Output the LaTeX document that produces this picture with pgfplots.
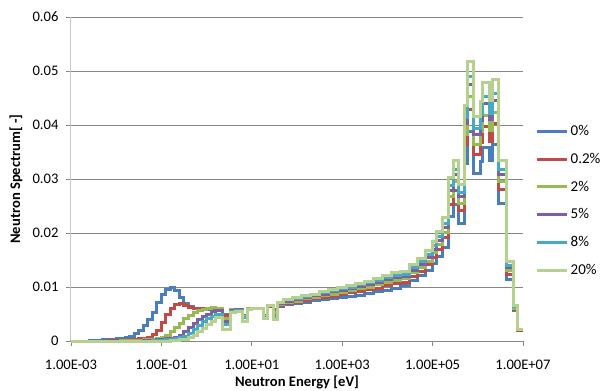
\documentclass[border=0pt]{standalone}
\usepackage{fontspec}
\setmainfont{Carlito}
\usepackage{pgfplots}
\usepackage{pgfplotstable}
\pgfplotsset{compat=1.18}
\definecolor{c0}{HTML}{4A7EBB}
\definecolor{c1}{HTML}{BE4B48}
\definecolor{c2}{HTML}{98B954}
\definecolor{c3}{HTML}{7D60A0}
\definecolor{c4}{HTML}{46AAC5}
\definecolor{c5}{HTML}{B6D08F}
\definecolor{gridc}{RGB}{134,134,134}
\definecolor{yaxc}{RGB}{200,200,200}

% logE = log10 of the lower group boundary energy [eV]
\pgfplotstableread{
logE s0 s02 s2 s5 s8 s20
-3.0 0 0 0 0 0 0
-2.6 0.0001 0 0 0 0 0
-2.5 0.0001 0 0 0 0 0
-2.4 0.0001 0 0 0 0 0
-2.3 0.0002 0 0 0 0 0
-2.2 0.0002 0.0001 0 0 0 0
-2.1 0.0003 0.0001 0 0 0 0
-2.0 0.0004 0.0001 0 0 0 0
-1.9 0.0005 0.0001 0.0001 0 0 0
-1.8 0.0007 0.0002 0.0001 0 0 0
-1.7 0.0009 0.0002 0.0001 0 0 0
-1.6 0.0014 0.0003 0.0001 0 0 0
-1.5 0.0020 0.0004 0.0001 0 0 0
-1.4 0.0028 0.0005 0.0002 0.0001 0 0
-1.3 0.0039 0.0007 0.0002 0.0001 0 0
-1.2 0.0053 0.0012 0.0003 0.0001 0.0001 0
-1.1 0.0071 0.0020 0.0004 0.0002 0.0001 0
-1.0 0.0086 0.0034 0.0006 0.0003 0.0001 0
-0.9 0.0096 0.0050 0.0011 0.0004 0.0002 0
-0.8 0.0100 0.0061 0.0018 0.0005 0.0003 0.0001
-0.7 0.0093 0.0068 0.0025 0.0007 0.0004 0.0001
-0.6 0.0080 0.0069 0.0033 0.0011 0.0006 0.0002
-0.5 0.0069 0.0066 0.0041 0.0017 0.0009 0.0003
-0.4 0.0063 0.0062 0.0048 0.0025 0.0014 0.0006
-0.3 0.0061 0.0061 0.0053 0.0033 0.0022 0.0011
-0.2 0.0060 0.0061 0.0057 0.0040 0.0029 0.0017
-0.1 0.0060 0.0060 0.0059 0.0046 0.0036 0.0023
0.0 0.0059 0.0060 0.0061 0.0050 0.0042 0.0030
0.1 0.0059 0.0059 0.0062 0.0054 0.0046 0.0036
0.2 0.0058 0.0058 0.0061 0.0056 0.0050 0.0044
0.35 0.0050 0.0047 0.0042 0.0036 0.0031 0.0022
0.52 0.0058 0.0058 0.0059 0.0057 0.0055 0.0052
0.65 0.0059 0.0059 0.0059 0.0058 0.0057 0.0055
0.8 0.0048 0.0046 0.0045 0.0044 0.0044 0.0036
0.9 0.0060 0.0060 0.0060 0.0059 0.0059 0.0058
1.0 0.0060 0.0060 0.0061 0.0061 0.0061 0.0061
1.25 0.0047 0.0046 0.0045 0.0044 0.0043 0.0042
1.34 0.0063 0.0064 0.0065 0.0065 0.0066 0.0066
1.47 0.0058 0.0056 0.0052 0.0048 0.0046 0.0040
1.56 0.0064 0.0066 0.0068 0.0070 0.0071 0.0072
1.7 0.0067 0.0069 0.0071 0.0074 0.0076 0.0077
1.9 0.0070 0.0072 0.0074 0.0077 0.0079 0.0080
2.1 0.0072 0.0075 0.0078 0.0080 0.0082 0.0084
2.3 0.0075 0.0078 0.0081 0.0084 0.0086 0.0087
2.5 0.0077 0.0080 0.0084 0.0087 0.0089 0.0091
2.7 0.0079 0.0083 0.0087 0.0091 0.0093 0.0095
2.9 0.0081 0.0086 0.0090 0.0094 0.0097 0.0099
3.1 0.0083 0.0089 0.0093 0.0098 0.0100 0.0103
3.3 0.0085 0.0092 0.0097 0.0101 0.0104 0.0107
3.5 0.0088 0.0095 0.0100 0.0105 0.0108 0.0111
3.7 0.0091 0.0098 0.0104 0.0109 0.0112 0.0116
3.9 0.0094 0.0102 0.0108 0.0113 0.0117 0.0121
4.1 0.0097 0.0106 0.0112 0.0117 0.0122 0.0126
4.279 0.0102 0.0108 0.0115 0.0120 0.0124 0.0129
4.500 0.0112 0.0119 0.0126 0.0131 0.0136 0.0141
4.677 0.0121 0.0129 0.0136 0.0142 0.0147 0.0153
4.832 0.0131 0.0141 0.0148 0.0155 0.0160 0.0167
4.987 0.0143 0.0155 0.0163 0.0170 0.0176 0.0184
5.097 0.0156 0.0170 0.0179 0.0187 0.0193 0.0202
5.230 0.0174 0.0191 0.0201 0.0210 0.0218 0.0228
5.341 0.0230 0.0253 0.0267 0.0279 0.0288 0.0303
5.473 0.0253 0.0279 0.0295 0.0308 0.0318 0.0335
5.584 0.0218 0.0241 0.0254 0.0267 0.0275 0.0290
5.695 0.0328 0.0363 0.0383 0.0402 0.0414 0.0437
5.783 0.0388 0.0429 0.0452 0.0475 0.0489 0.0517
5.894 0.0310 0.0345 0.0363 0.0382 0.0393 0.0415
6.049 0.0332 0.0368 0.0388 0.0408 0.0419 0.0443
6.115 0.0358 0.0397 0.0418 0.0440 0.0452 0.0478
6.248 0.0334 0.0370 0.0390 0.0410 0.0422 0.0446
6.336 0.0364 0.0403 0.0424 0.0446 0.0459 0.0485
6.469 0.0255 0.0280 0.0295 0.0308 0.0318 0.0335
6.646 0.0113 0.0124 0.0130 0.0136 0.0140 0.0147
6.779 0.0056 0.0059 0.0061 0.0063 0.0064 0.0065
6.889 0.0019 0.0020 0.0021 0.0021 0.0022 0.0022
7.0 0.0019 0.0020 0.0021 0.0021 0.0022 0.0022
}\spec

\begin{document}
\begin{tikzpicture}
\useasboundingbox (-71pt,-50pt) rectangle (532pt,341pt);
\begin{axis}[
 at={(0pt,0pt)}, anchor=south west,
 scale only axis, width=452pt, height=324pt,
 xmin=-3, xmax=7, ymin=0, ymax=0.06,
 axis x line=bottom, axis y line=left,
 x axis line style={-, draw=gridc, line width=0.8pt},
 y axis line style={-, draw=yaxc, line width=1pt},
 xtick={-3,-1,1,3,5,7},
 xticklabels={1.00E-03,1.00E-01,1.00E+01,1.00E+03,1.00E+05,1.00E+07},
 ytick={0,0.01,0.02,0.03,0.04,0.05,0.06},
 yticklabels={0,0.01,0.02,0.03,0.04,0.05,0.06},
 scaled y ticks=false,
 tick align=outside, major tick length=5pt,
 tick style={draw=gridc, line width=0.8pt},
 ymajorgrids, major grid style={draw=gridc, line width=0.8pt},
 ticklabel style={font=\fontsize{14.6}{16}\selectfont},
 xticklabel style={yshift=-10pt},
 yticklabel style={xshift=-4pt},
 xlabel={Neutron Energy [eV]}, ylabel={Neutron Spectrum[ -]},
 label style={font=\fontsize{14.6}{16}\selectfont\bfseries, inner sep=1pt},
 xlabel style={at={(axis description cs:0.5,-0.128)}, anchor=center},
 ylabel style={at={(axis description cs:-0.122,0.5)}, anchor=center},
 clip=false,
 legend style={draw=none, fill=none, at={(axis description cs:1.021,0.678)}, anchor=north west, font=\fontsize{15}{18}\selectfont, row sep=12pt},
 legend cell align=left,
 legend image code/.code={\draw[#1, line width=3pt] (0pt,0pt) -- (30pt,0pt);},
]
\addplot[const plot, c0, line width=3pt] table[x=logE, y=s0] {\spec};
\addplot[const plot, c1, line width=3pt] table[x=logE, y=s02] {\spec};
\addplot[const plot, c2, line width=3pt] table[x=logE, y=s2] {\spec};
\addplot[const plot, c3, line width=3pt] table[x=logE, y=s5] {\spec};
\addplot[const plot, c4, line width=3pt] table[x=logE, y=s8] {\spec};
\addplot[const plot, c5, line width=3pt] table[x=logE, y=s20] {\spec};
\legend{0\%,0.2\%,2\%,5\%,8\%,20\%}
\end{axis}
\end{tikzpicture}
\end{document}
